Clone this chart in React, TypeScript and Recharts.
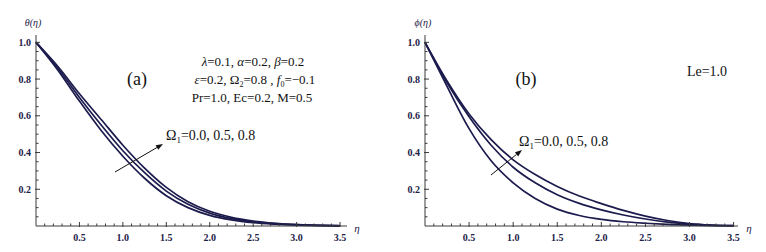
import { LineChart, Line, XAxis, YAxis } from "recharts";

// eta grid shared by all curves
const eta = [0, 0.25, 0.5, 0.75, 1.0, 1.25, 1.5, 1.75, 2.0, 2.25, 2.5, 2.75, 3.0, 3.25, 3.5];

// (a) temperature theta(eta) for Omega1 = 0.0, 0.5, 0.8
const thetaOmega00 = [1.0, 0.85, 0.68, 0.52, 0.38, 0.26, 0.165, 0.1, 0.058, 0.033, 0.018, 0.01, 0.005, 0.002, 0.001];
const thetaOmega05 = [1.0, 0.86, 0.7, 0.55, 0.41, 0.29, 0.19, 0.118, 0.07, 0.04, 0.023, 0.013, 0.007, 0.003, 0.001];
const thetaOmega08 = [1.0, 0.87, 0.72, 0.58, 0.44, 0.315, 0.21, 0.132, 0.08, 0.047, 0.027, 0.015, 0.008, 0.004, 0.002];

// (b) concentration phi(eta) for Omega1 = 0.0, 0.5, 0.8
const phiOmega00 = [1.0, 0.76, 0.53, 0.355, 0.235, 0.15, 0.092, 0.057, 0.036, 0.023, 0.015, 0.009, 0.005, 0.002, 0.001];
const phiOmega05 = [1.0, 0.78, 0.595, 0.44, 0.32, 0.235, 0.17, 0.123, 0.088, 0.06, 0.038, 0.021, 0.01, 0.004, 0.002];
const phiOmega08 = [1.0, 0.79, 0.61, 0.47, 0.36, 0.28, 0.215, 0.163, 0.122, 0.085, 0.054, 0.03, 0.013, 0.005, 0.002];

// ticks (major ones get labels)
const xMajor = [0.5, 1.0, 1.5, 2.0, 2.5, 3.0, 3.5];
const xTicks = [
  0.1, 0.2, 0.3, 0.4, 0.5, 0.6, 0.7, 0.8, 0.9, 1.0, 1.1, 1.2, 1.3, 1.4, 1.5, 1.6, 1.7, 1.8,
  1.9, 2.0, 2.1, 2.2, 2.3, 2.4, 2.5, 2.6, 2.7, 2.8, 2.9, 3.0, 3.1, 3.2, 3.3, 3.4, 3.5,
];
const yMajor = [0.2, 0.4, 0.6, 0.8, 1.0];
const yTicks = [
  0.05, 0.1, 0.15, 0.2, 0.25, 0.3, 0.35, 0.4, 0.45, 0.5, 0.55, 0.6, 0.65, 0.7, 0.75, 0.8,
  0.85, 0.9, 0.95, 1.0,
];

const thetaData = eta.map((e, i) => ({
  eta: e,
  a: thetaOmega00[i],
  b: thetaOmega05[i],
  c: thetaOmega08[i],
}));
const phiData = eta.map((e, i) => ({
  eta: e,
  a: phiOmega00[i],
  b: phiOmega05[i],
  c: phiOmega08[i],
}));

const curveColor = "#1c1b4d";
const axisColor = "#3a3a3a";
const tickFont = { fontFamily: "'Liberation Serif', serif", fontSize: 10, fontWeight: 700, fill: "#1d2247" };

const isIn = (arr: number[], v: number) => arr.some((m) => Math.abs(m - v) < 1e-6);

function XTick(props: any) {
  const { x, y, payload } = props;
  const v = payload.value;
  const major = isIn(xMajor, v);
  return (
    <g>
      <line x1={x} x2={x} y1={y + (major ? 1 : 0)} y2={y - (major ? 4 : 2.5)} stroke={axisColor} strokeWidth={1} />
      {major && (
        <text x={x} y={y + 15} textAnchor="middle" {...tickFont}>
          {v.toFixed(1)}
        </text>
      )}
    </g>
  );
}

function YTick(props: any) {
  const { x, y, payload } = props;
  const v = payload.value;
  const major = isIn(yMajor, v);
  return (
    <g>
      <line x1={x - (major ? 1 : 0)} x2={x + (major ? 4 : 2.5)} y1={y} y2={y} stroke={axisColor} strokeWidth={1} />
      {major && (
        <text x={x - 5} y={y + 3.5} textAnchor="end" {...tickFont}>
          {v.toFixed(1)}
        </text>
      )}
    </g>
  );
}

function Panel({ data, width, yAxisWidth, right, xMax }: { data: any[]; width: number; yAxisWidth: number; right: number; xMax: number }) {
  return (
    <LineChart width={width} height={252} data={data} margin={{ top: 35, right, bottom: 0, left: 0 }}>
      <XAxis
        dataKey="eta"
        type="number"
        domain={[0, xMax]}
        ticks={xTicks}
        interval={0}
        height={26}
        tickSize={0}
        tickMargin={0}
        tickLine={false}
        tick={<XTick />}
        axisLine={{ stroke: axisColor, strokeWidth: 1 }}
      />
      <YAxis
        type="number"
        domain={[0, 1.04]}
        ticks={yTicks}
        interval={0}
        width={yAxisWidth}
        tickSize={0}
        tickMargin={0}
        tickLine={false}
        tick={<YTick />}
        axisLine={{ stroke: axisColor, strokeWidth: 1 }}
      />
      <Line type="monotone" dataKey="a" stroke={curveColor} strokeWidth={1.7} dot={false} isAnimationActive={false} />
      <Line type="monotone" dataKey="b" stroke={curveColor} strokeWidth={1.7} dot={false} isAnimationActive={false} />
      <Line type="monotone" dataKey="c" stroke={curveColor} strokeWidth={1.7} dot={false} isAnimationActive={false} />
    </LineChart>
  );
}

const serif = "'Liberation Serif', 'Times New Roman', serif";

function Arrow({ x1, y1, x2, y2 }: { x1: number; y1: number; x2: number; y2: number }) {
  const ang = Math.atan2(y2 - y1, x2 - x1);
  const len = 7;
  const w = 2.6;
  const bx = x2 - len * Math.cos(ang);
  const by = y2 - len * Math.sin(ang);
  const px = -Math.sin(ang) * w;
  const py = Math.cos(ang) * w;
  return (
    <g>
      <line x1={x1} y1={y1} x2={bx} y2={by} stroke="#111" strokeWidth={1} />
      <polygon points={`${x2},${y2} ${bx + px},${by + py} ${bx - px},${by - py}`} fill="#111" />
    </g>
  );
}

function OmegaLabel({ x, y }: { x: number; y: number }) {
  return (
    <text x={x} y={y} fontFamily={serif} fontSize={14} fill="#111">
      Ω<tspan dy={3} fontSize={9}>1</tspan>
      <tspan dy={-3}>=0.0, 0.5, 0.8</tspan>
    </text>
  );
}

export default function App() {
  return (
    <div style={{ position: "absolute", left: 0, top: 0, width: 766, height: 252, background: "#fff" }}>
      <div style={{ position: "absolute", left: 0, top: 0 }}>
        <Panel data={thetaData} width={380} yAxisWidth={36} right={33} xMax={3.58} />
      </div>
      <div style={{ position: "absolute", left: 380, top: 0 }}>
        <Panel data={phiData} width={386} yAxisWidth={45} right={28} xMax={3.55} />
      </div>
      <svg
        width={766}
        height={252}
        style={{ position: "absolute", left: 0, top: 0, pointerEvents: "none" }}
      >
        {/* axis titles */}
        <text x={33} y={26} textAnchor="middle" fontFamily={serif} fontStyle="italic" fontSize={10} fill="#1d2247">
          θ(η)
        </text>
        <text x={357} y={232} textAnchor="middle" fontFamily={serif} fontStyle="italic" fontSize={11} fill="#1d2247">
          η
        </text>
        <text x={423} y={26} textAnchor="middle" fontFamily={serif} fontStyle="italic" fontSize={10} fill="#1d2247">
          ϕ(η)
        </text>
        <text x={749} y={232} textAnchor="middle" fontFamily={serif} fontStyle="italic" fontSize={11} fill="#1d2247">
          η
        </text>

        {/* panel (a) annotations */}
        <text x={137} y={85} textAnchor="middle" fontFamily={serif} fontSize={18} fill="#111">
          (a)
        </text>
        <text x={253} y={66} textAnchor="middle" fontFamily={serif} fontSize={13} fill="#111">
          <tspan fontStyle="italic">λ</tspan>=0.1, <tspan fontStyle="italic">α</tspan>=0.2,{" "}
          <tspan fontStyle="italic">β</tspan>=0.2
        </text>
        <text x={255} y={84} textAnchor="middle" fontFamily={serif} fontSize={13} fill="#111">
          <tspan fontStyle="italic">ε</tspan>=0.2, Ω<tspan dy={3} fontSize={8}>2</tspan>
          <tspan dy={-3}>=0.8 , </tspan>
          <tspan fontStyle="italic">f</tspan>
          <tspan dy={3} fontSize={8}>0</tspan>
          <tspan dy={-3}>=−0.1</tspan>
        </text>
        <text x={252} y={102} textAnchor="middle" fontFamily={serif} fontSize={13} fill="#111">
          Pr=1.0, Ec=0.2, M=0.5
        </text>
        <OmegaLabel x={166} y={140} />
        <Arrow x1={115} y1={172} x2={163} y2={144} />

        {/* panel (b) annotations */}
        <text x={526} y={85} textAnchor="middle" fontFamily={serif} fontSize={18} fill="#111">
          (b)
        </text>
        <text x={707} y={76} textAnchor="middle" fontFamily={serif} fontSize={14} fill="#111">
          Le=1.0
        </text>
        <OmegaLabel x={519} y={146} />
        <Arrow x1={491} y1={175} x2={522} y2={150} />
      </svg>
    </div>
  );
}
